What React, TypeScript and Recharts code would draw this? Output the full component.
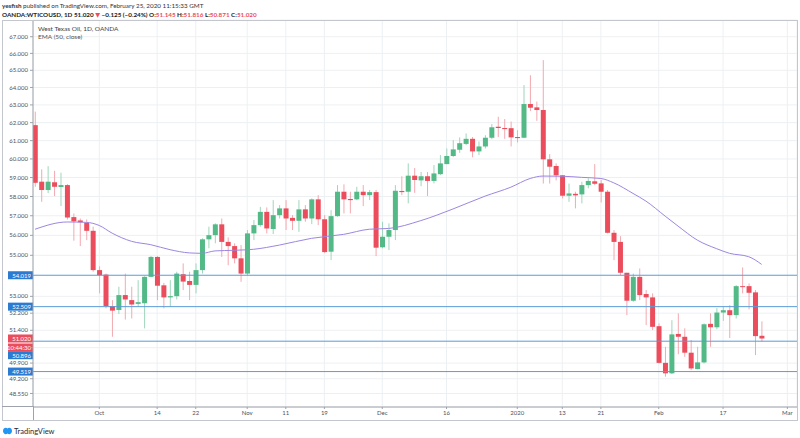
import React from 'react';
import { ComposedChart, Bar, Line, XAxis, YAxis, CartesianGrid, ReferenceLine } from 'recharts';

// daily OHLC, OANDA WTICOUSD, Sep 17 2019 .. Feb 25 2020
const opens = [
  61.86, 58.78, 58.34, 58.75, 58.5, 58.6, 56.93, 56.76, 56.64, 56.23,
  54.27, 54.05, 52.54, 52.35, 53.06, 52.82, 52.64, 52.67, 53.94, 54.92,
  53.53, 52.95, 53.01, 54.07, 53.74, 53.55, 54.27, 55.8, 56.01, 56.56,
  55.67, 55.46, 54.85, 54.1, 56.1, 56.52, 57.2, 56.32, 57.03, 57.38,
  56.89, 56.74, 57.33, 56.86, 57.85, 56.82, 55.18, 56.98, 58.25, 57.87,
  57.85, 58.25, 58.07, 58.23, 55.4, 55.93, 56.27, 58.29, 58.25, 59.1,
  58.85, 59.07, 58.82, 59.18, 59.72, 60.16, 60.5, 60.82, 61.1, 60.41,
  60.68, 61.16, 61.77, 61.7, 61.69, 61.2, 61.16, 63.05, 62.86, 62.71,
  59.98, 59.62, 59.12, 58.04, 58.14, 58.11, 58.6, 58.8, 58.69, 58.25,
  56.13, 55.67, 54.14, 52.79, 53.94, 53.11, 52.95, 51.59, 49.91, 49.44,
  51.23, 51.1, 50.37, 49.63, 49.93, 51.7, 51.54, 52.23, 52.34, 52.11,
  53.49, 53.49, 53.19, 51.145,
];
const highs = [
  62.62, 59.44, 59.61, 59.36, 59.26, 58.65, 57.12, 56.86, 56.81, 56.44,
  54.46, 54.1, 52.82, 53.46, 54.1, 53.46, 53.78, 53.97, 54.96, 54.96,
  53.65, 53.78, 54.19, 54.6, 54.19, 54.6, 55.85, 56.44, 56.61, 56.86,
  55.9, 55.6, 55.51, 56.27, 56.78, 57.46, 57.43, 57.81, 57.55, 57.81,
  57.03, 57.81, 57.55, 57.9, 58.07, 57.03, 57.29, 58.6, 58.64, 58.25,
  58.51, 58.6, 58.34, 58.34, 56.69, 56.61, 58.6, 59.07, 59.76, 59.51,
  59.3, 59.3, 59.67, 60.21, 60.57, 61.03, 61.18, 61.4, 61.2, 60.95,
  61.3, 61.92, 62.33, 62.2, 62.06, 61.58, 64.14, 64.71, 63.19, 65.6,
  60.26, 59.76, 59.13, 58.68, 58.25, 58.78, 58.96, 59.72, 58.87, 58.34,
  56.27, 55.96, 54.14, 54.1, 54.35, 53.3, 53.14, 51.72, 50.64, 51.87,
  52.19, 51.49, 50.95, 50.64, 51.72, 52.19, 52.44, 52.5, 52.58, 53.54,
  54.4, 53.62, 53.3, 51.816,
];
const lows = [
  58.51, 57.72, 58.18, 58.02, 57.5, 56.81, 55.73, 55.46, 55.76, 54.19,
  53.14, 52.43, 51.1, 52.16, 51.9, 51.95, 52.5, 51.49, 53.92, 52.82,
  52.43, 52.5, 52.85, 53.3, 52.82, 53.14, 54.1, 55.35, 55.6, 54.92,
  54.51, 54.6, 53.7, 54.02, 55.76, 56.44, 56.1, 56.07, 56.86, 56.27,
  56.27, 56.18, 56.69, 56.57, 56.52, 55.11, 54.76, 56.95, 57.12, 57.12,
  57.81, 57.5, 57.81, 54.96, 55.35, 55.26, 55.76, 58.07, 57.64, 58.19,
  58.54, 58.02, 58.69, 59.13, 59.72, 60.1, 60.33, 60.75, 60.09, 60.21,
  60.57, 61.08, 61.2, 61.1, 60.68, 60.9, 61.16, 62.65, 62.1, 58.68,
  58.68, 58.85, 57.9, 57.72, 57.38, 57.64, 58.43, 58.6, 57.69, 56.1,
  54.76, 54.02, 52.11, 52.74, 52.82, 51.64, 51.41, 49.88, 49.29, 49.41,
  50.3, 50.18, 49.59, 49.62, 49.88, 50.64, 51.45, 51.84, 51.04, 51.95,
  53.14, 52.38, 50.26, 50.871,
];
const closes = [
  58.72, 58.34, 58.78, 58.51, 58.6, 56.91, 56.71, 56.67, 56.23, 54.27,
  54.02, 52.54, 52.32, 53.06, 52.85, 52.61, 52.72, 53.94, 54.92, 53.51,
  52.95, 53.01, 54.1, 53.71, 53.55, 54.27, 55.8, 56.01, 56.56, 55.67,
  55.46, 54.85, 54.1, 56.1, 56.52, 57.2, 56.35, 57.03, 57.38, 56.86,
  56.74, 57.33, 56.86, 57.85, 56.82, 55.16, 56.98, 58.25, 57.85, 57.81,
  58.25, 58.07, 58.23, 55.38, 55.93, 56.27, 58.3, 58.23, 59.1, 58.87,
  59.07, 58.82, 59.22, 59.76, 60.16, 60.52, 60.86, 61.1, 60.41, 60.68,
  61.16, 61.74, 61.7, 61.64, 61.18, 61.14, 63.05, 62.84, 62.71, 59.98,
  59.58, 59.12, 58.04, 58.16, 58.06, 58.6, 58.82, 58.67, 58.25, 56.13,
  55.67, 54.14, 52.79, 53.94, 53.06, 52.95, 51.56, 49.91, 49.44, 51.21,
  51.1, 50.37, 49.66, 49.93, 51.68, 51.54, 52.23, 52.34, 52.11, 53.49,
  53.46, 53.17, 51.13, 51.02,
];

// EMA(50) at these bars
const emaIdx = [0, 5, 8, 10, 12, 15, 18, 21, 24, 26, 28, 31, 34, 38, 43, 48, 52, 55, 60, 65, 70, 74, 77, 79, 82, 85, 88, 90, 93, 95, 98, 100, 103, 106, 108, 111, 113];
const emaVals = [56.31, 56.68, 56.66, 56.5, 56.11, 55.7, 55.53, 55.28, 55.12, 55.1, 55.22, 55.25, 55.3, 55.51, 55.85, 56.05, 56.31, 56.35, 56.75, 57.35, 58.02, 58.49, 58.95, 59.08, 59.07, 59.01, 58.95, 58.72, 58.16, 57.76, 56.98, 56.47, 55.76, 55.33, 55.1, 54.93, 54.55];

const yTicks = [67, 66, 65, 64, 63, 62, 61, 60, 59, 58, 57, 56, 55, 53, 52.2, 51.4, 50.6, 49.9, 49.2, 48.55];
const xTicks = [10, 19, 25, 33, 39, 45, 54, 64, 75, 82, 88, 97, 107, 117];
const xTickLabels = ['Oct', '14', '22', 'Nov', '11', '19', 'Dec', '16', '2020', '13', '21', 'Feb', '17', 'Mar'];

const levels = [54.019, 52.509, 50.896, 49.519];
const levelLabels = ['54.019', '52.509', '50.896', '49.519'];
const lastPrice = 51.02;

const UP = '#53b987';
const DOWN = '#eb4d5c';
const TAG_BLUE = '#2b7bd2';
const FONT = 'Lato, "DejaVu Sans", sans-serif';

const data = opens.map((o, i) => ({
  i,
  open: o,
  high: highs[i],
  low: lows[i],
  close: closes[i],
  range: [lows[i], highs[i]],
  ema: null as number | null,
}));
emaIdx.forEach((k, j) => {
  data[k].ema = emaVals[j];
});

const Candle = (props: any) => {
  const { x, y, width, height, payload } = props;
  const { open, close, high, low } = payload;
  const top = Math.min(y, y + height);
  const bot = Math.max(y, y + height);
  const lh = Math.log(high);
  const ll = Math.log(low);
  // log scale: pixel position is linear in ln(price)
  const py = (v: number) => (lh === ll ? top : top + ((bot - top) * (lh - Math.log(v))) / (lh - ll));
  const up = close >= open;
  const yo = py(open);
  const yc = py(close);
  const cx = x + width / 2;
  return (
    <g>
      <line x1={cx} x2={cx} y1={top} y2={bot} stroke={up ? '#9fd6bb' : '#f3a9b0'} strokeWidth={1} />
      <rect x={x} y={Math.min(yo, yc)} width={width} height={Math.max(Math.abs(yc - yo), 1)} fill={up ? UP : DOWN} />
    </g>
  );
};

const PriceTag = (props: any) => {
  const { viewBox, text, bg, dy = 0, extra } = props;
  if (!viewBox) return null;
  const y = viewBox.y + dy;
  return (
    <g>
      <rect x={8} y={y - 4} width={25} height={8} fill={bg} />
      <text x={31} y={y} textAnchor="end" dominantBaseline="central" fontSize={6} fill="#fff" fontFamily={FONT}>
        {text}
      </text>
      {extra ? (
        <g>
          <rect x={8} y={y + 5} width={25} height={8} fill={bg} />
          <text x={31} y={y + 9} textAnchor="end" dominantBaseline="central" fontSize={6} fill="#fff" fontFamily={FONT}>
            {extra}
          </text>
        </g>
      ) : null}
    </g>
  );
};

const Decor = () => (
  <svg width={800} height={438} style={{ position: 'absolute', left: 0, top: 0, pointerEvents: 'none' }} fontFamily={FONT}>
    <text x={2} y={8} fontSize={6.3} fill="#333">
      <tspan fontWeight="bold">yesfish</tspan> published on TradingView.com, February 25, 2020 11:15:33 GMT
    </text>
    <text x={2} y={16.5} fontSize={6.3} fontWeight="bold" fill="#222">
      OANDA:WTICOUSD, 1D 51.020 <tspan fill={DOWN}>▼</tspan> −0.125 (−0.24%) O:<tspan fill={DOWN}>51.145</tspan> H:
      <tspan fill={DOWN}>51.816</tspan> L:<tspan fill={DOWN}>50.871</tspan> C:<tspan fill={DOWN}>51.020</tspan>
    </text>
    <rect x={2.5} y={20.5} width={795} height={400} fill="none" stroke="#c3c6cc" />
    <line x1={33.5} x2={33.5} y1={406} y2={420} stroke="#9ea2aa" />
    <line x1={2} x2={33} y1={406.5} y2={406.5} stroke="#9ea2aa" />
    <text x={38} y={31.3} fontSize={6.5} fill="#444">West Texas Oil, 1D, OANDA</text>
    <text x={38} y={39} fontSize={6.5} fill="#555">EMA (50, close)</text>
    <g transform="translate(3,427)">
      <path d="M0 4 C0 1 3 0 4.5 1.5 C6 0 9 1 9 4 C9 7 6 8 4.5 6.5 C3 8 0 7 0 4 Z" fill="#2196f3" />
    </g>
    <text x={14} y={434} fontSize={7.5} fill="#1e2a3a">TradingView</text>
  </svg>
);

export default function App() {
  return (
    <div style={{ position: 'absolute', left: 0, top: 0, width: 800, height: 438, background: '#fff', fontFamily: FONT }}>
      <ComposedChart width={800} height={438} data={data} margin={{ top: 20, right: 3, bottom: 0, left: 0 }}>
        <CartesianGrid stroke="#edf0f3" />
        <XAxis
          type="number"
          dataKey="i"
          domain={[-0.31, 118.5]}
          allowDataOverflow
          ticks={xTicks}
          interval={0}
          height={31}
          tickSize={2}
          tickMargin={2}
          tickFormatter={(v: number) => xTickLabels[xTicks.indexOf(v)] ?? ''}
          tick={{ fontSize: 6, fill: '#4c525e', fontFamily: FONT }}
          stroke="#9ea2aa"
        />
        <YAxis
          type="number"
          scale="log"
          domain={[47.96, 68.02]}
          allowDataOverflow
          ticks={yTicks}
          interval={0}
          width={33}
          tickSize={3}
          tickMargin={2}
          tickFormatter={(v: number) => (v === 50.6 ? '' : v.toFixed(3))}
          tick={{ fontSize: 6, fill: '#4c525e', fontFamily: FONT }}
          stroke="#9ea2aa"
        />
        {levels.map((lv, k) => (
          <ReferenceLine
            key={lv}
            y={lv}
            stroke="#5b9bd8"
            strokeWidth={1}
            label={<PriceTag text={levelLabels[k]} bg={TAG_BLUE} dy={lv === 50.896 ? 14 : 0} />}
          />
        ))}
        <ReferenceLine y={lastPrice} stroke="none" strokeOpacity={0} label={<PriceTag text="51.020" bg={DOWN} extra="10:44:30" />} />
        <Line
          dataKey="ema"
          type="monotone"
          stroke="#9d86e0"
          strokeWidth={1}
          dot={false}
          connectNulls
          isAnimationActive={false}
        />
        <Bar dataKey="range" barSize={5} shape={<Candle />} isAnimationActive={false} />
      </ComposedChart>
      <Decor />
    </div>
  );
}
